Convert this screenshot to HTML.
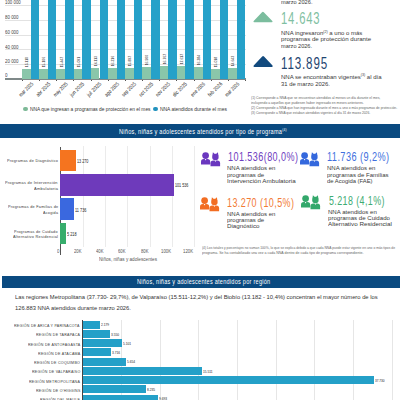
<!DOCTYPE html><html><head><meta charset="utf-8"><style>html,body{margin:0;padding:0;width:400px;height:400px;overflow:hidden;background:#fff;position:relative}div,i{position:absolute;font-family:"Liberation Sans", sans-serif;white-space:pre;transform-origin:0 0;font-style:normal}</style></head><body><div style="position:absolute;left:5.00px;top:64.00px;width:241.00px;height:1.00px;background:#e2e2e2;"></div>
<div style="position:absolute;left:5.00px;top:49.25px;width:241.00px;height:1.00px;background:#e2e2e2;"></div>
<div style="position:absolute;left:5.00px;top:34.50px;width:241.00px;height:1.00px;background:#e2e2e2;"></div>
<div style="position:absolute;left:5.00px;top:19.75px;width:241.00px;height:1.00px;background:#e2e2e2;"></div>
<div style="position:absolute;left:5.00px;top:5.00px;width:241.00px;height:1.00px;background:#e2e2e2;"></div>
<div style="position:absolute;left:5.00px;top:77.90px;width:241.00px;height:1.85px;background:#7f8989;"></div>
<div style="position:absolute;left:22.10px;top:69.00px;width:8.70px;height:9.70px;background:#8ac6aa;"></div>
<div style="position:absolute;left:30.80px;top:-5.00px;width:8.50px;height:83.70px;background:#26a1c9;"></div>
<div style="position:absolute;left:39.28px;top:68.50px;width:8.70px;height:10.20px;background:#8ac6aa;"></div>
<div style="position:absolute;left:47.98px;top:-5.00px;width:8.50px;height:83.70px;background:#26a1c9;"></div>
<div style="position:absolute;left:56.45px;top:69.00px;width:8.70px;height:9.70px;background:#8ac6aa;"></div>
<div style="position:absolute;left:65.15px;top:-5.00px;width:8.50px;height:83.70px;background:#26a1c9;"></div>
<div style="position:absolute;left:73.63px;top:68.80px;width:8.70px;height:9.90px;background:#8ac6aa;"></div>
<div style="position:absolute;left:82.33px;top:-5.00px;width:8.50px;height:83.70px;background:#26a1c9;"></div>
<div style="position:absolute;left:90.81px;top:68.00px;width:8.70px;height:10.70px;background:#8ac6aa;"></div>
<div style="position:absolute;left:99.51px;top:-5.00px;width:8.50px;height:83.70px;background:#26a1c9;"></div>
<div style="position:absolute;left:107.98px;top:68.00px;width:8.70px;height:10.70px;background:#8ac6aa;"></div>
<div style="position:absolute;left:116.68px;top:-5.00px;width:8.50px;height:83.70px;background:#26a1c9;"></div>
<div style="position:absolute;left:125.16px;top:68.00px;width:8.70px;height:10.70px;background:#8ac6aa;"></div>
<div style="position:absolute;left:133.86px;top:-5.00px;width:8.50px;height:83.70px;background:#26a1c9;"></div>
<div style="position:absolute;left:142.34px;top:67.00px;width:8.70px;height:11.70px;background:#8ac6aa;"></div>
<div style="position:absolute;left:151.04px;top:-5.00px;width:8.50px;height:83.70px;background:#26a1c9;"></div>
<div style="position:absolute;left:159.52px;top:66.00px;width:8.70px;height:12.70px;background:#8ac6aa;"></div>
<div style="position:absolute;left:168.22px;top:-5.00px;width:8.50px;height:83.70px;background:#26a1c9;"></div>
<div style="position:absolute;left:176.69px;top:66.00px;width:8.70px;height:12.70px;background:#8ac6aa;"></div>
<div style="position:absolute;left:185.39px;top:-5.00px;width:8.50px;height:83.70px;background:#26a1c9;"></div>
<div style="position:absolute;left:193.87px;top:67.00px;width:8.70px;height:11.70px;background:#8ac6aa;"></div>
<div style="position:absolute;left:202.57px;top:-5.00px;width:8.50px;height:83.70px;background:#26a1c9;"></div>
<div style="position:absolute;left:211.05px;top:68.75px;width:8.70px;height:9.95px;background:#8ac6aa;"></div>
<div style="position:absolute;left:219.75px;top:-5.00px;width:8.50px;height:83.70px;background:#26a1c9;"></div>
<div style="position:absolute;left:228.22px;top:68.25px;width:8.70px;height:10.45px;background:#8ac6aa;"></div>
<div style="position:absolute;left:236.92px;top:-5.00px;width:8.50px;height:83.70px;background:#26a1c9;"></div>
<div style="position:absolute;left:21.90px;top:79.50px;width:0.80px;height:1.60px;background:#555;"></div>
<div style="position:absolute;left:39.08px;top:79.50px;width:0.80px;height:1.60px;background:#555;"></div>
<div style="position:absolute;left:56.25px;top:79.50px;width:0.80px;height:1.60px;background:#555;"></div>
<div style="position:absolute;left:73.43px;top:79.50px;width:0.80px;height:1.60px;background:#555;"></div>
<div style="position:absolute;left:90.61px;top:79.50px;width:0.80px;height:1.60px;background:#555;"></div>
<div style="position:absolute;left:107.78px;top:79.50px;width:0.80px;height:1.60px;background:#555;"></div>
<div style="position:absolute;left:124.96px;top:79.50px;width:0.80px;height:1.60px;background:#555;"></div>
<div style="position:absolute;left:142.14px;top:79.50px;width:0.80px;height:1.60px;background:#555;"></div>
<div style="position:absolute;left:159.32px;top:79.50px;width:0.80px;height:1.60px;background:#555;"></div>
<div style="position:absolute;left:176.49px;top:79.50px;width:0.80px;height:1.60px;background:#555;"></div>
<div style="position:absolute;left:193.67px;top:79.50px;width:0.80px;height:1.60px;background:#555;"></div>
<div style="position:absolute;left:210.85px;top:79.50px;width:0.80px;height:1.60px;background:#555;"></div>
<div style="position:absolute;left:228.02px;top:79.50px;width:0.80px;height:1.60px;background:#555;"></div>
<div style="position:absolute;left:245.20px;top:79.50px;width:0.80px;height:1.60px;background:#555;"></div>
<i style="left:23.2px;top:106.8px;width:4.6px;height:4.6px;border-radius:50%;background:#7db997"></i>
<i style="left:153.1px;top:106.6px;width:4.6px;height:4.6px;border-radius:50%;background:#2292bd"></i>
<svg style="position:absolute;left:0;top:0" width="400" height="130"><path d="M262.0 12.2 Q262.9 11.1 263.8 12.2 L272.3 20.9 Q273.2 22.3 271.6 22.3 L254.4 22.3 Q252.8 22.3 253.7 20.9 Z" fill="#7bbd9e"/><path d="M262.2 56.6 Q263.1 55.5 264.0 56.6 L272.5 65.6 Q273.4 67 271.8 67 L254.4 67 Q252.8 67 253.7 65.6 Z" fill="#124a7e"/></svg>
<div style="position:absolute;left:0.00px;top:124.00px;width:400.00px;height:13.80px;background:#0a4a80;"></div>
<div style="position:absolute;left:82.60px;top:146.00px;width:1.00px;height:101.00px;background:#ebebeb;"></div>
<div style="position:absolute;left:104.90px;top:146.00px;width:1.00px;height:101.00px;background:#ebebeb;"></div>
<div style="position:absolute;left:127.20px;top:146.00px;width:1.00px;height:101.00px;background:#ebebeb;"></div>
<div style="position:absolute;left:149.50px;top:146.00px;width:1.00px;height:101.00px;background:#ebebeb;"></div>
<div style="position:absolute;left:171.80px;top:146.00px;width:1.00px;height:101.00px;background:#ebebeb;"></div>
<div style="position:absolute;left:194.10px;top:146.00px;width:1.00px;height:101.00px;background:#ebebeb;"></div>
<div style="position:absolute;left:59.90px;top:147.20px;width:0.80px;height:107.60px;background:#555;"></div>
<div style="position:absolute;left:60.10px;top:149.60px;width:15.50px;height:21.80px;background:#f5741f;"></div>
<div style="position:absolute;left:60.10px;top:173.90px;width:113.91px;height:21.80px;background:#6e3abb;"></div>
<div style="position:absolute;left:60.10px;top:198.40px;width:13.79px;height:21.80px;background:#3a68df;"></div>
<div style="position:absolute;left:60.10px;top:222.60px;width:5.94px;height:21.80px;background:#37ad6c;"></div>
<svg style="position:absolute;left:199.50px;top:150.15px" width="23" height="18" viewBox="-1 -1 23 18"><circle cx="4.6" cy="4.6" r="3.35" fill="#6a37bf"/><path d="M0 10.7 Q0 7.9 2.8 7.9 L6.4 7.9 Q9.2 7.9 9.2 10.7 L9.2 13.6 L0 13.6 Z" fill="#6a37bf"/><path d="M3.8 8.0 L4.6 9.5 L5.4 8.0 Z" fill="#fff"/><circle cx="14.4" cy="6.0" r="3.25" fill="#6a37bf"/><path d="M11.4 4.8 L11.9 1.3 L13.8 3.0 Z M17.4 4.8 L16.9 1.3 L15.0 3.0 Z" fill="#6a37bf"/><path d="M9.5 12.3 Q9.5 9.5 12.3 9.5 L16.3 9.5 Q19.1 9.5 19.1 12.3 L19.1 15.3 L9.5 15.3 Z" fill="#6a37bf"/><path d="M13.6 9.6 L14.4 11.1 L15.2 9.6 Z" fill="#fff"/></svg>
<svg style="position:absolute;left:298.90px;top:150.15px" width="23" height="18" viewBox="-1 -1 23 18"><circle cx="4.6" cy="4.6" r="3.35" fill="#3468dd"/><path d="M0 10.7 Q0 7.9 2.8 7.9 L6.4 7.9 Q9.2 7.9 9.2 10.7 L9.2 13.6 L0 13.6 Z" fill="#3468dd"/><path d="M3.8 8.0 L4.6 9.5 L5.4 8.0 Z" fill="#fff"/><circle cx="14.4" cy="6.0" r="3.25" fill="#3468dd"/><path d="M11.4 4.8 L11.9 1.3 L13.8 3.0 Z M17.4 4.8 L16.9 1.3 L15.0 3.0 Z" fill="#3468dd"/><path d="M9.5 12.3 Q9.5 9.5 12.3 9.5 L16.3 9.5 Q19.1 9.5 19.1 12.3 L19.1 15.3 L9.5 15.3 Z" fill="#3468dd"/><path d="M13.6 9.6 L14.4 11.1 L15.2 9.6 Z" fill="#fff"/></svg>
<svg style="position:absolute;left:198.75px;top:195.00px" width="23" height="18" viewBox="-1 -1 23 18"><circle cx="4.6" cy="4.6" r="3.35" fill="#f26d22"/><path d="M0 10.7 Q0 7.9 2.8 7.9 L6.4 7.9 Q9.2 7.9 9.2 10.7 L9.2 13.6 L0 13.6 Z" fill="#f26d22"/><path d="M3.8 8.0 L4.6 9.5 L5.4 8.0 Z" fill="#fff"/><circle cx="14.4" cy="6.0" r="3.25" fill="#f26d22"/><path d="M11.4 4.8 L11.9 1.3 L13.8 3.0 Z M17.4 4.8 L16.9 1.3 L15.0 3.0 Z" fill="#f26d22"/><path d="M9.5 12.3 Q9.5 9.5 12.3 9.5 L16.3 9.5 Q19.1 9.5 19.1 12.3 L19.1 15.3 L9.5 15.3 Z" fill="#f26d22"/><path d="M13.6 9.6 L14.4 11.1 L15.2 9.6 Z" fill="#fff"/></svg>
<svg style="position:absolute;left:300.10px;top:193.35px" width="23" height="18" viewBox="-1 -1 23 18"><circle cx="4.6" cy="4.6" r="3.35" fill="#33a86b"/><path d="M0 10.7 Q0 7.9 2.8 7.9 L6.4 7.9 Q9.2 7.9 9.2 10.7 L9.2 13.6 L0 13.6 Z" fill="#33a86b"/><path d="M3.8 8.0 L4.6 9.5 L5.4 8.0 Z" fill="#fff"/><circle cx="14.4" cy="6.0" r="3.25" fill="#33a86b"/><path d="M11.4 4.8 L11.9 1.3 L13.8 3.0 Z M17.4 4.8 L16.9 1.3 L15.0 3.0 Z" fill="#33a86b"/><path d="M9.5 12.3 Q9.5 9.5 12.3 9.5 L16.3 9.5 Q19.1 9.5 19.1 12.3 L19.1 15.3 L9.5 15.3 Z" fill="#33a86b"/><path d="M13.6 9.6 L14.4 11.1 L15.2 9.6 Z" fill="#fff"/></svg>
<div style="position:absolute;left:2.30px;top:275.90px;width:397.70px;height:11.70px;background:#0a4a80;"></div>
<div style="position:absolute;left:121.07px;top:319.70px;width:1.00px;height:81.00px;background:#e6e6e6;"></div>
<div style="position:absolute;left:159.74px;top:319.70px;width:1.00px;height:81.00px;background:#e6e6e6;"></div>
<div style="position:absolute;left:198.41px;top:319.70px;width:1.00px;height:81.00px;background:#e6e6e6;"></div>
<div style="position:absolute;left:237.08px;top:319.70px;width:1.00px;height:81.00px;background:#e6e6e6;"></div>
<div style="position:absolute;left:275.75px;top:319.70px;width:1.00px;height:81.00px;background:#e6e6e6;"></div>
<div style="position:absolute;left:314.42px;top:319.70px;width:1.00px;height:81.00px;background:#e6e6e6;"></div>
<div style="position:absolute;left:353.09px;top:319.70px;width:1.00px;height:81.00px;background:#e6e6e6;"></div>
<div style="position:absolute;left:391.76px;top:319.70px;width:1.00px;height:81.00px;background:#e6e6e6;"></div>
<div style="position:absolute;left:81.90px;top:320.00px;width:0.90px;height:81.00px;background:#444;"></div>
<div style="position:absolute;left:82.50px;top:320.70px;width:17.70px;height:8.00px;background:#24a0c8;"></div>
<div style="position:absolute;left:82.50px;top:329.95px;width:27.50px;height:8.00px;background:#24a0c8;"></div>
<div style="position:absolute;left:82.50px;top:339.20px;width:39.50px;height:8.00px;background:#24a0c8;"></div>
<div style="position:absolute;left:82.50px;top:348.45px;width:28.75px;height:8.00px;background:#24a0c8;"></div>
<div style="position:absolute;left:82.50px;top:357.70px;width:43.75px;height:8.00px;background:#24a0c8;"></div>
<div style="position:absolute;left:82.50px;top:366.95px;width:119.80px;height:8.00px;background:#24a0c8;"></div>
<div style="position:absolute;left:82.50px;top:376.20px;width:291.90px;height:8.00px;background:#24a0c8;"></div>
<div style="position:absolute;left:82.50px;top:385.45px;width:63.75px;height:8.00px;background:#24a0c8;"></div>
<div style="position:absolute;left:82.50px;top:394.70px;width:75.10px;height:8.00px;background:#24a0c8;"></div>
<div style="left:5.00px;top:73.57px;font-size:4.80px;line-height:4.80px;color:#444;letter-spacing:0px;transform:scaleX(0.9363)">0</div>
<div style="left:5.00px;top:59.67px;font-size:4.80px;line-height:4.80px;color:#444;letter-spacing:0px;transform:scaleX(0.9195)">20 000</div>
<div style="left:5.00px;top:45.67px;font-size:4.80px;line-height:4.80px;color:#444;letter-spacing:0px;transform:scaleX(0.9195)">40 000</div>
<div style="left:5.00px;top:30.67px;font-size:4.80px;line-height:4.80px;color:#444;letter-spacing:0px;transform:scaleX(0.9195)">60 000</div>
<div style="left:5.00px;top:15.67px;font-size:4.80px;line-height:4.80px;color:#444;letter-spacing:0px;transform:scaleX(0.9195)">80 000</div>
<div style="left:5.00px;top:0.67px;font-size:4.80px;line-height:4.80px;color:#444;letter-spacing:0px;transform:scaleX(0.9077)">100 000</div>
<div style="left:21.33px;top:60.18px;width:12.53px;font-size:4.20px;line-height:4.20px;color:#222;transform-origin:6.27px 2.12px;transform:rotate(-90deg) scaleX(0.8217)">15.110</div>
<div style="left:14.69px;top:86.77px;width:22.81px;font-size:5.40px;line-height:5.40px;color:#222;transform-origin:11.41px 2.73px;transform:rotate(-45deg) scaleX(0.7890)">mar 2025</div>
<div style="left:38.35px;top:59.68px;width:12.85px;font-size:4.20px;line-height:4.20px;color:#222;transform-origin:6.42px 2.12px;transform:rotate(-90deg) scaleX(0.8018)">15.106</div>
<div style="left:32.62px;top:86.77px;width:21.32px;font-size:5.40px;line-height:5.40px;color:#222;transform-origin:10.66px 2.73px;transform:rotate(-45deg) scaleX(0.8443)">abr 2025</div>
<div style="left:55.53px;top:60.18px;width:12.85px;font-size:4.20px;line-height:4.20px;color:#222;transform-origin:6.42px 2.12px;transform:rotate(-90deg) scaleX(0.8018)">15.447</div>
<div style="left:48.60px;top:86.77px;width:23.72px;font-size:5.40px;line-height:5.40px;color:#222;transform-origin:11.86px 2.73px;transform:rotate(-45deg) scaleX(0.7590)">may 2025</div>
<div style="left:72.71px;top:59.98px;width:12.85px;font-size:4.20px;line-height:4.20px;color:#222;transform-origin:6.42px 2.12px;transform:rotate(-90deg) scaleX(0.8018)">15.091</div>
<div style="left:67.27px;top:86.77px;width:20.72px;font-size:5.40px;line-height:5.40px;color:#222;transform-origin:10.36px 2.73px;transform:rotate(-45deg) scaleX(0.8687)">jun 2025</div>
<div style="left:90.04px;top:59.18px;width:12.53px;font-size:4.20px;line-height:4.20px;color:#222;transform-origin:6.27px 2.12px;transform:rotate(-90deg) scaleX(0.8217)">16.113</div>
<div style="left:85.35px;top:86.77px;width:18.92px;font-size:5.40px;line-height:5.40px;color:#222;transform-origin:9.46px 2.73px;transform:rotate(-45deg) scaleX(0.9516)">jul 2025</div>
<div style="left:107.06px;top:59.18px;width:12.85px;font-size:4.20px;line-height:4.20px;color:#222;transform-origin:6.42px 2.12px;transform:rotate(-90deg) scaleX(0.8018)">16.216</div>
<div style="left:100.72px;top:86.77px;width:22.52px;font-size:5.40px;line-height:5.40px;color:#222;transform-origin:11.26px 2.73px;transform:rotate(-45deg) scaleX(0.7992)">ago 2025</div>
<div style="left:124.24px;top:59.18px;width:12.85px;font-size:4.20px;line-height:4.20px;color:#222;transform-origin:6.42px 2.12px;transform:rotate(-90deg) scaleX(0.8018)">15.897</div>
<div style="left:118.05px;top:86.77px;width:22.22px;font-size:5.40px;line-height:5.40px;color:#222;transform-origin:11.11px 2.73px;transform:rotate(-45deg) scaleX(0.8101)">sep 2025</div>
<div style="left:141.42px;top:58.18px;width:12.85px;font-size:4.20px;line-height:4.20px;color:#222;transform-origin:6.42px 2.12px;transform:rotate(-90deg) scaleX(0.8018)">16.900</div>
<div style="left:135.98px;top:86.77px;width:20.72px;font-size:5.40px;line-height:5.40px;color:#222;transform-origin:10.36px 2.73px;transform:rotate(-45deg) scaleX(0.8688)">oct 2025</div>
<div style="left:158.59px;top:57.18px;width:12.85px;font-size:4.20px;line-height:4.20px;color:#222;transform-origin:6.42px 2.12px;transform:rotate(-90deg) scaleX(0.8018)">16.767</div>
<div style="left:152.41px;top:86.77px;width:22.22px;font-size:5.40px;line-height:5.40px;color:#222;transform-origin:11.11px 2.73px;transform:rotate(-45deg) scaleX(0.8101)">nov 2025</div>
<div style="left:175.77px;top:57.18px;width:12.85px;font-size:4.20px;line-height:4.20px;color:#222;transform-origin:6.42px 2.12px;transform:rotate(-90deg) scaleX(0.8018)">17.617</div>
<div style="left:170.48px;top:86.77px;width:20.42px;font-size:5.40px;line-height:5.40px;color:#222;transform-origin:10.21px 2.73px;transform:rotate(-45deg) scaleX(0.8817)">dic 2025</div>
<div style="left:192.95px;top:58.18px;width:12.85px;font-size:4.20px;line-height:4.20px;color:#222;transform-origin:6.42px 2.12px;transform:rotate(-90deg) scaleX(0.8018)">16.284</div>
<div style="left:186.61px;top:86.77px;width:22.52px;font-size:5.40px;line-height:5.40px;color:#222;transform-origin:11.26px 2.73px;transform:rotate(-45deg) scaleX(0.7992)">ene 2026</div>
<div style="left:210.12px;top:59.93px;width:12.85px;font-size:4.20px;line-height:4.20px;color:#222;transform-origin:6.42px 2.12px;transform:rotate(-90deg) scaleX(0.8018)">15.018</div>
<div style="left:204.54px;top:86.77px;width:21.02px;font-size:5.40px;line-height:5.40px;color:#222;transform-origin:10.51px 2.73px;transform:rotate(-45deg) scaleX(0.8563)">feb 2026</div>
<div style="left:227.30px;top:59.43px;width:12.85px;font-size:4.20px;line-height:4.20px;color:#222;transform-origin:6.42px 2.12px;transform:rotate(-90deg) scaleX(0.8018)">14.643</div>
<div style="left:220.82px;top:86.77px;width:22.81px;font-size:5.40px;line-height:5.40px;color:#222;transform-origin:11.41px 2.73px;transform:rotate(-45deg) scaleX(0.7890)">mar 2026</div>
<div style="left:30.00px;top:106.56px;font-size:5.40px;line-height:5.40px;color:#333;letter-spacing:0px;transform:scaleX(0.8976)">NNA que ingresan a programas de protección en el mes</div>
<div style="left:159.60px;top:106.56px;font-size:5.40px;line-height:5.40px;color:#333;letter-spacing:0px;transform:scaleX(0.9148)">NNA atendidos durante el mes</div>
<div style="left:281.20px;top:10.74px;font-size:16.60px;line-height:16.60px;color:#7fbfa2;letter-spacing:1.2px;transform:scaleX(0.6799)">14.643</div>
<div style="left:281.20px;top:55.72px;font-size:16.80px;line-height:16.80px;color:#1f4570;letter-spacing:1.2px;transform:scaleX(0.6928)">113.895</div>
<div style="left:280.50px;top:-1.35px;font-size:6.00px;line-height:6.00px;color:#3a3a3a;letter-spacing:0px;transform:scaleX(0.9445)">marzo 2026.</div>
<div style="left:281.00px;top:29.71px;font-size:6.10px;line-height:6.10px;color:#3a3a3a;letter-spacing:0px;transform:scaleX(0.9840)">NNA ingresaron<span style="font-size:3.6px;position:relative;top:-2.2px">(2)</span> a uno o más</div>
<div style="left:281.00px;top:35.56px;font-size:6.10px;line-height:6.10px;color:#3a3a3a;letter-spacing:0px;transform:scaleX(1.0038)">programas de protección durante</div>
<div style="left:281.00px;top:42.66px;font-size:6.10px;line-height:6.10px;color:#3a3a3a;letter-spacing:0px;transform:scaleX(0.9143)">marzo 2026.</div>
<div style="left:281.00px;top:73.56px;font-size:6.10px;line-height:6.10px;color:#3a3a3a;letter-spacing:0px;transform:scaleX(0.9899)">NNA se encontraban vigentes<span style="font-size:3.6px;position:relative;top:-2.2px">(3)</span> al día</div>
<div style="left:281.00px;top:80.66px;font-size:6.10px;line-height:6.10px;color:#3a3a3a;letter-spacing:0px;transform:scaleX(0.9633)">31 de marzo 2026.</div>
<div style="left:251.10px;top:96.74px;font-size:3.60px;line-height:3.60px;color:#666;letter-spacing:0px;transform:scaleX(0.9419)">(1) Corresponde a NNA que se encuentran atendidos al menos un día durante el mes,</div>
<div style="left:251.10px;top:101.74px;font-size:3.60px;line-height:3.60px;color:#666;letter-spacing:0px;transform:scaleX(0.9497)">incluyendo a aquellos que pudiesen haber ingresado en meses anteriores.</div>
<div style="left:251.10px;top:106.74px;font-size:3.60px;line-height:3.60px;color:#666;letter-spacing:0px;transform:scaleX(0.9391)">(2) Corresponde a NNA que han ingresado durante el mes a uno o más programas de protección.</div>
<div style="left:251.10px;top:111.54px;font-size:3.60px;line-height:3.60px;color:#666;letter-spacing:0px;transform:scaleX(0.9165)">(3) Corresponde a NNA que estaban atendidos vigentes al día 31 de marzo 2026.</div>
<div style="left:119.20px;top:128.56px;font-size:6.70px;line-height:6.70px;color:#fff;letter-spacing:0.3px;transform:scaleX(0.8346)">Niños, niñas y adolescentes atendidos por tipo de programa<span style="font-size:3.8px;position:relative;top:-2.5px">(4)</span></div>
<div style="left:76.60px;top:159.57px;font-size:4.80px;line-height:4.80px;color:#222;letter-spacing:0px;transform:scaleX(0.7765)">13 270</div>
<div style="left:175.01px;top:183.62px;font-size:4.80px;line-height:4.80px;color:#222;letter-spacing:0px;transform:scaleX(0.7665)">101 536</div>
<div style="left:74.89px;top:208.62px;font-size:4.80px;line-height:4.80px;color:#222;letter-spacing:0px;transform:scaleX(0.7958)">11 736</div>
<div style="left:67.04px;top:232.57px;font-size:4.80px;line-height:4.80px;color:#222;letter-spacing:0px;transform:scaleX(0.7909)">5 218</div>
<div style="left:6.70px;top:158.75px;font-size:4.30px;line-height:4.30px;color:#383838;letter-spacing:0.3px;transform:scaleX(0.8859)">Programas de Diagnóstico</div>
<div style="left:5.20px;top:180.59px;font-size:4.30px;line-height:4.30px;color:#383838;letter-spacing:0.3px;transform:scaleX(0.8924)">Programas de Intervención</div>
<div style="left:33.70px;top:186.59px;font-size:4.30px;line-height:4.30px;color:#383838;letter-spacing:0.3px;transform:scaleX(0.9251)">Ambulatoria</div>
<div style="left:7.50px;top:204.75px;font-size:4.30px;line-height:4.30px;color:#383838;letter-spacing:0.3px;transform:scaleX(0.8794)">Programas de Familias de</div>
<div style="left:42.70px;top:210.54px;font-size:4.30px;line-height:4.30px;color:#383838;letter-spacing:0.3px;transform:scaleX(0.8651)">Acogida</div>
<div style="left:14.20px;top:229.59px;font-size:4.30px;line-height:4.30px;color:#383838;letter-spacing:0.3px;transform:scaleX(0.8714)">Programas de Cuidado</div>
<div style="left:12.70px;top:234.75px;font-size:4.30px;line-height:4.30px;color:#383838;letter-spacing:0.3px;transform:scaleX(0.8939)">Alternativo Residencial</div>
<div style="left:57.25px;top:249.64px;font-size:4.60px;line-height:4.60px;color:#555;letter-spacing:0px;transform:scaleX(0.9380)">0</div>
<div style="left:73.80px;top:249.64px;font-size:4.60px;line-height:4.60px;color:#555;letter-spacing:0px;transform:scaleX(0.9163)">20K</div>
<div style="left:96.10px;top:249.64px;font-size:4.60px;line-height:4.60px;color:#555;letter-spacing:0px;transform:scaleX(0.9163)">40K</div>
<div style="left:118.40px;top:249.64px;font-size:4.60px;line-height:4.60px;color:#555;letter-spacing:0px;transform:scaleX(0.9163)">60K</div>
<div style="left:140.70px;top:249.64px;font-size:4.60px;line-height:4.60px;color:#555;letter-spacing:0px;transform:scaleX(0.9163)">80K</div>
<div style="left:160.50px;top:249.64px;font-size:4.60px;line-height:4.60px;color:#555;letter-spacing:0px;transform:scaleX(0.9308)">100K</div>
<div style="left:182.80px;top:249.64px;font-size:4.60px;line-height:4.60px;color:#555;letter-spacing:0px;transform:scaleX(0.9308)">120K</div>
<div style="left:98.70px;top:257.72px;font-size:4.80px;line-height:4.80px;color:#555;letter-spacing:0px;transform:scaleX(0.9704)">Niños, niñas y adolescentes</div>
<div style="left:228.00px;top:150.59px;font-size:12.60px;line-height:12.60px;color:#6f40c0;letter-spacing:0.6px;transform:scaleX(0.7182)">101.536(80,0%)</div>
<div style="left:327.25px;top:150.64px;font-size:12.60px;line-height:12.60px;color:#416fde;letter-spacing:0.6px;transform:scaleX(0.7270)">11.736 (9,2%)</div>
<div style="left:227.00px;top:196.69px;font-size:12.60px;line-height:12.60px;color:#f27a35;letter-spacing:0.6px;transform:scaleX(0.7131)">13.270 (10,5%)</div>
<div style="left:328.65px;top:194.69px;font-size:12.60px;line-height:12.60px;color:#3eab72;letter-spacing:0.6px;transform:scaleX(0.7048)">5.218 (4,1%)</div>
<div style="left:227.25px;top:164.65px;font-size:6.00px;line-height:6.00px;color:#3a3a3a;letter-spacing:0px;transform:scaleX(0.9997)">NNA atendidos en</div>
<div style="left:227.25px;top:171.70px;font-size:6.00px;line-height:6.00px;color:#3a3a3a;letter-spacing:0px;transform:scaleX(1.0035)">programas de</div>
<div style="left:227.25px;top:177.50px;font-size:6.00px;line-height:6.00px;color:#3a3a3a;letter-spacing:0px;transform:scaleX(1.0395)">Intervención Ambulatoria</div>
<div style="left:327.25px;top:164.65px;font-size:6.00px;line-height:6.00px;color:#3a3a3a;letter-spacing:0px;transform:scaleX(0.9997)">NNA atendidos en</div>
<div style="left:327.25px;top:171.70px;font-size:6.00px;line-height:6.00px;color:#3a3a3a;letter-spacing:0px;transform:scaleX(1.0086)">programas de Familias</div>
<div style="left:327.25px;top:177.50px;font-size:6.00px;line-height:6.00px;color:#3a3a3a;letter-spacing:0px;transform:scaleX(0.9755)">de Acogida (FAE)</div>
<div style="left:227.25px;top:210.65px;font-size:6.00px;line-height:6.00px;color:#3a3a3a;letter-spacing:0px;transform:scaleX(0.9997)">NNA atendidos en</div>
<div style="left:227.25px;top:216.70px;font-size:6.00px;line-height:6.00px;color:#3a3a3a;letter-spacing:0px;transform:scaleX(1.0035)">programas de</div>
<div style="left:227.25px;top:222.50px;font-size:6.00px;line-height:6.00px;color:#3a3a3a;letter-spacing:0px;transform:scaleX(1.0351)">Diagnóstico</div>
<div style="left:327.80px;top:208.65px;font-size:6.00px;line-height:6.00px;color:#3a3a3a;letter-spacing:0px;transform:scaleX(1.0090)">NNA atendidos en</div>
<div style="left:327.80px;top:214.70px;font-size:6.00px;line-height:6.00px;color:#3a3a3a;letter-spacing:0px;transform:scaleX(1.0141)">programas de Cuidado</div>
<div style="left:327.80px;top:220.50px;font-size:6.00px;line-height:6.00px;color:#3a3a3a;letter-spacing:0px;transform:scaleX(1.0454)">Alternativo Residencial</div>
<div style="left:201.70px;top:246.53px;font-size:3.50px;line-height:3.50px;color:#666;letter-spacing:0px;transform:scaleX(0.9492)">(4) Los totales y porcentajes no suman 100%, lo que se explica debido a que cada NNA puede estar vigente en uno o más tipos de</div>
<div style="left:201.70px;top:251.72px;font-size:3.50px;line-height:3.50px;color:#666;letter-spacing:0px;transform:scaleX(1.0147)">programa. Se ha contabilizado una vez a cada NNA dentro de cada tipo de programa correspondiente.</div>
<div style="left:137.20px;top:278.61px;font-size:6.40px;line-height:6.40px;color:#fff;letter-spacing:0.3px;transform:scaleX(0.8660)">Niños, niñas y adolescentes atendidos por región</div>
<div style="left:15.00px;top:293.56px;font-size:6.10px;line-height:6.10px;color:#333;letter-spacing:0px;transform:scaleX(0.9530)">Las regiones Metropolitana (37.730- 29,7%), de Valparaíso (15.511-12,2%) y del Biobío (13.182 - 10,4%) concentran el mayor número de los</div>
<div style="left:15.00px;top:304.62px;font-size:6.10px;line-height:6.10px;color:#333;letter-spacing:0px;transform:scaleX(0.9475)">126.883 NNA atendidos durante marzo 2026.</div>
<div style="left:101.20px;top:323.62px;font-size:3.80px;line-height:3.80px;color:#222;letter-spacing:0px;transform:scaleX(0.8413)">2.179</div>
<div style="left:14.40px;top:323.68px;font-size:4.20px;line-height:4.20px;color:#3a3a3a;letter-spacing:0.3px;transform:scaleX(0.8534)">REGIÓN DE ARICA Y PARINACOTA</div>
<div style="left:111.00px;top:333.62px;font-size:3.80px;line-height:3.80px;color:#222;letter-spacing:0px;transform:scaleX(0.8413)">3.550</div>
<div style="left:36.00px;top:332.68px;font-size:4.20px;line-height:4.20px;color:#3a3a3a;letter-spacing:0.3px;transform:scaleX(0.8498)">REGIÓN DE TARAPACÁ</div>
<div style="left:123.00px;top:342.62px;font-size:3.80px;line-height:3.80px;color:#222;letter-spacing:0px;transform:scaleX(0.8413)">5.101</div>
<div style="left:27.60px;top:342.68px;font-size:4.20px;line-height:4.20px;color:#3a3a3a;letter-spacing:0.3px;transform:scaleX(0.8568)">REGIÓN DE ANTOFAGASTA</div>
<div style="left:112.25px;top:351.62px;font-size:3.80px;line-height:3.80px;color:#222;letter-spacing:0px;transform:scaleX(0.8413)">3.716</div>
<div style="left:37.60px;top:351.68px;font-size:4.20px;line-height:4.20px;color:#3a3a3a;letter-spacing:0.3px;transform:scaleX(0.8656)">REGIÓN DE ATACAMA</div>
<div style="left:127.25px;top:360.62px;font-size:3.80px;line-height:3.80px;color:#222;letter-spacing:0px;transform:scaleX(0.8413)">5.654</div>
<div style="left:34.00px;top:360.68px;font-size:4.20px;line-height:4.20px;color:#3a3a3a;letter-spacing:0.3px;transform:scaleX(0.8651)">REGIÓN DE COQUIMBO</div>
<div style="left:203.30px;top:370.62px;font-size:3.80px;line-height:3.80px;color:#222;letter-spacing:0px;transform:scaleX(0.8465)">15.511</div>
<div style="left:31.60px;top:369.68px;font-size:4.20px;line-height:4.20px;color:#3a3a3a;letter-spacing:0.3px;transform:scaleX(0.8578)">REGIÓN DE VALPARAÍSO</div>
<div style="left:375.40px;top:379.62px;font-size:3.80px;line-height:3.80px;color:#222;letter-spacing:0px;transform:scaleX(0.8260)">37.730</div>
<div style="left:29.00px;top:379.68px;font-size:4.20px;line-height:4.20px;color:#3a3a3a;letter-spacing:0.3px;transform:scaleX(0.8635)">REGIÓN METROPOLITANA</div>
<div style="left:147.25px;top:388.62px;font-size:3.80px;line-height:3.80px;color:#222;letter-spacing:0px;transform:scaleX(0.8413)">8.235</div>
<div style="left:35.60px;top:388.68px;font-size:4.20px;line-height:4.20px;color:#3a3a3a;letter-spacing:0.3px;transform:scaleX(0.8548)">REGIÓN DE O'HIGGINS</div>
<div style="left:158.60px;top:397.62px;font-size:3.80px;line-height:3.80px;color:#222;letter-spacing:0px;transform:scaleX(0.8413)">9.693</div>
<div style="left:40.00px;top:397.68px;font-size:4.20px;line-height:4.20px;color:#3a3a3a;letter-spacing:0.3px;transform:scaleX(0.8717)">REGIÓN DEL MAULE</div></body></html>
